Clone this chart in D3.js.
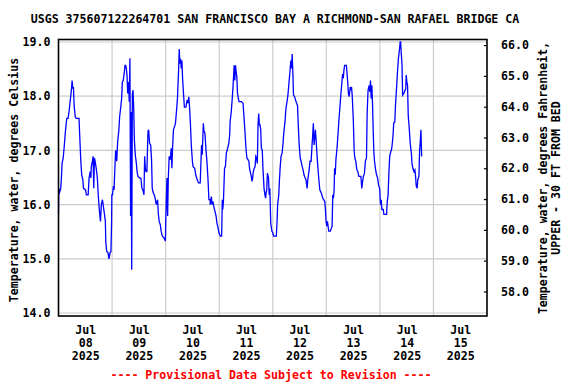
<!DOCTYPE html>
<html>
<head>
<meta charset="utf-8">
<script src="https://cdn.jsdelivr.net/npm/d3@7"></script>
<style>
body { margin: 0; background: #fff; }
text { font-family: "DejaVu Sans Mono", monospace; font-weight: bold; }
</style>
</head>
<body>
<script>
// USGS 375607122264701 water temperature, hours since Jul 08 2025 00:00
const hours = [
  0.0, 0.1, 0.3, 1.0, 1.3, 1.6, 2.1, 2.5, 3.1, 3.7, 4.3, 4.8, 5.2, 5.7, 6.1, 6.4, 6.7, 7.0, 7.5, 7.9,
  9.2, 9.5, 10.0, 10.4, 10.9, 11.2, 12.1, 12.5, 13.3, 13.7, 14.2, 14.5, 14.7, 15.2, 15.5, 15.8, 16.1, 16.4, 16.9, 17.4,
  17.9, 18.3, 18.8, 19.2, 19.7, 20.1, 20.6, 21.0, 21.2, 21.6, 22.2, 22.6, 23.1, 23.5, 23.8, 23.9, 24.2, 24.6, 24.9, 25.2,
  25.6, 26.1, 26.5, 27.0, 27.4, 27.9, 28.3, 28.6, 29.0, 29.5, 29.8, 30.1, 30.4, 30.7, 31.0, 31.4, 31.7, 32.0, 32.3, 32.5,
  32.8, 33.1, 33.4, 33.7, 34.0, 34.4, 34.9, 35.2, 35.6, 36.4, 36.9, 37.4, 37.8, 38.3, 38.6, 38.9, 39.2, 39.6, 40.1, 40.4,
  40.8, 41.3, 41.7, 42.0, 42.5, 42.9, 43.3, 43.8, 44.4, 44.7, 45.1, 45.6, 46.0, 46.5, 47.2, 47.9, 48.1, 48.6, 48.9, 49.2,
  49.6, 50.1, 50.5, 50.8, 51.1, 51.5, 52.0, 52.4, 52.9, 53.3, 53.8, 54.1, 54.4, 54.7, 55.0, 55.3, 55.6, 56.1, 56.4, 57.1,
  57.6, 57.9, 58.4, 58.8, 59.1, 59.5, 60.0, 60.3, 61.0, 61.5, 61.9, 62.4, 62.8, 63.5, 63.8, 64.1, 64.4, 64.9, 65.2, 65.6,
  66.1, 66.5, 67.0, 67.4, 67.9, 68.0, 68.5, 68.8, 69.2, 69.7, 70.1, 70.6, 71.0, 71.5, 71.9, 72.5, 73.1, 73.4, 73.6, 73.9,
  74.4, 74.8, 75.2, 75.8, 76.3, 76.7, 76.9, 77.4, 77.8, 78.2, 78.7, 79.0, 79.3, 79.6, 79.9, 80.2, 80.6, 80.9, 81.9, 82.7,
  83.1, 83.5, 84.0, 84.4, 84.9, 85.3, 85.6, 85.9, 86.4, 86.7, 87.0, 87.3, 87.7, 88.1, 88.4, 88.8, 89.1, 89.4, 89.7, 90.0,
  90.3, 90.6, 90.9, 91.3, 91.6, 92.1, 92.5, 92.8, 93.0, 93.3, 93.6, 94.1, 94.4, 94.7, 95.1, 95.6, 96.0, 96.4, 97.6, 97.9,
  98.2, 98.7, 99.0, 99.4, 99.7, 100.2, 100.6, 101.0, 101.5, 101.9, 102.4, 102.8, 103.3, 103.7, 104.1, 104.4, 104.7, 105.0, 105.3, 105.8,
  106.2, 106.7, 107.1, 107.4, 107.8, 108.3, 108.7, 109.2, 109.6, 110.0, 110.5, 110.9, 111.4, 111.7, 112.0, 112.3, 112.7, 113.2, 113.6, 113.9,
  114.2, 114.5, 114.8, 115.1, 115.4, 115.7, 116.2, 116.6, 117.1, 117.5, 118.0, 118.4, 118.8, 119.3, 119.6, 119.9, 120.2, 120.5, 120.8, 121.1,
  121.8, 122.3, 122.6, 122.9, 123.2, 123.5, 123.7, 124.0, 124.3, 124.8, 125.2, 125.6, 126.1, 126.5, 127.0, 127.3, 127.6, 127.9, 128.2, 129.0,
  129.3, 129.6, 129.9, 130.2, 130.5, 130.7, 131.0, 131.3, 131.6, 132.1, 132.5, 132.8, 133.2, 133.7, 134.1, 134.6, 135.5, 135.9, 136.2, 136.6,
  137.1, 137.5, 138.0, 138.3, 138.7, 139.2, 139.5, 139.8, 140.1, 140.4, 140.7, 141.0, 141.3, 141.6, 142.1, 142.5, 143.0, 143.5, 143.9, 144.3,
  144.6, 144.9, 145.5, 145.8, 147.0, 147.3, 147.7, 148.0, 148.4, 148.9, 149.2, 149.5, 149.9, 150.2, 150.7, 151.0, 151.5, 151.9, 152.3, 152.8,
  153.1, 153.3, 153.6, 153.9, 154.2, 154.7, 155.0, 155.3, 155.6, 155.8, 156.1, 156.4, 156.7, 157.2, 157.6, 158.1, 158.4, 158.8, 159.3, 159.7,
  160.0, 160.3, 160.7, 161.0, 161.5, 161.8, 162.1, 162.4, 162.7
];
const tempC = [
  15.82, 16.3, 16.2, 16.3, 16.49, 16.76, 16.86, 17.04, 17.35, 17.59, 17.59, 17.74, 17.9, 18.08, 18.29, 18.14, 18.17, 17.83, 17.62, 17.59,
  17.59, 17.28, 16.8, 16.55, 16.46, 16.3, 16.27, 16.18, 16.18, 16.49, 16.61, 16.49, 16.7, 16.8, 16.89, 16.3, 16.86, 16.8, 16.67, 16.49,
  16.12, 15.9, 15.69, 16.0, 16.09, 15.97, 15.82, 15.69, 15.3, 15.14, 15.11, 15.0, 15.11, 15.14, 15.69, 16.18, 16.18, 16.34, 16.27, 16.61,
  17.0, 16.8, 17.16, 17.35, 17.62, 17.8, 17.96, 18.26, 18.29, 18.45, 18.57, 18.57, 18.51, 18.39, 18.05, 18.26, 17.9, 18.7, 15.79, 17.71,
  14.8, 18.05, 18.11, 17.77, 17.19, 16.92, 16.76, 16.61, 16.52, 16.49, 16.49, 16.3, 16.27, 16.18, 16.89, 16.67, 16.61, 16.61, 17.35, 17.38,
  17.13, 17.1, 16.83, 16.3, 16.21, 16.18, 16.12, 16.0, 16.09, 15.85, 15.69, 15.63, 15.51, 15.42, 15.39, 15.33, 15.76, 16.49, 15.79, 16.49,
  16.89, 16.83, 17.04, 16.67, 17.04, 17.38, 17.44, 17.5, 17.74, 17.96, 18.45, 18.87, 18.6, 18.69, 18.51, 18.66, 18.33, 17.99, 17.8, 17.8,
  17.93, 17.87, 17.99, 17.74, 17.5, 17.1, 16.8, 16.7, 16.67, 16.55, 16.49, 16.43, 16.4, 16.4, 16.76, 17.1, 16.92, 17.5, 17.35, 17.32,
  17.0, 16.8, 16.46, 16.09, 16.09, 16.0, 16.15, 16.0, 16.06, 15.94, 15.88, 15.79, 15.66, 15.57, 15.48, 15.42, 15.42, 16.09, 15.91, 16.06,
  16.67, 16.7, 16.95, 17.04, 17.13, 17.28, 17.53, 17.71, 17.93, 18.17, 18.57, 18.29, 18.57, 18.45, 18.36, 18.05, 17.96, 17.9, 17.9, 17.87,
  17.62, 17.38, 17.04, 16.86, 16.83, 16.8, 16.67, 16.61, 16.52, 16.43, 16.49, 16.61, 16.67, 16.7, 16.89, 16.86, 16.76, 17.47, 17.68, 17.47,
  17.47, 17.38, 17.04, 17.01, 16.67, 16.3, 16.18, 16.12, 16.21, 16.27, 16.58, 16.49, 16.18, 16.3, 15.66, 15.51, 15.48, 15.42, 15.42, 15.66,
  16.0, 16.18, 16.46, 16.73, 16.89, 16.95, 17.13, 17.35, 17.53, 17.77, 17.9, 18.02, 18.26, 18.45, 18.66, 18.51, 18.78, 18.45, 18.02, 17.99,
  17.93, 17.87, 17.83, 17.5, 17.13, 16.86, 16.8, 16.7, 16.64, 16.55, 16.49, 16.46, 16.3, 16.46, 16.55, 16.64, 16.8, 16.8, 17.1, 17.28,
  17.5, 17.1, 17.22, 17.38, 17.22, 17.0, 16.7, 16.49, 16.27, 16.24, 16.18, 16.12, 16.09, 16.06, 15.91, 15.69, 15.6, 15.69, 15.6, 15.51,
  15.51, 15.57, 15.6, 16.18, 16.12, 16.27, 16.67, 16.55, 16.83, 17.04, 17.28, 17.53, 17.8, 18.02, 18.26, 18.41, 18.33, 18.48, 18.57, 18.57,
  18.41, 18.26, 18.05, 17.99, 18.08, 18.17, 18.11, 18.17, 18.02, 17.56, 16.97, 16.86, 16.8, 16.64, 16.61, 16.52, 16.52, 16.3, 16.4, 16.52,
  16.58, 16.8, 16.86, 17.68, 18.11, 18.2, 18.08, 18.29, 17.96, 18.2, 17.87, 17.38, 16.97, 16.8, 16.64, 16.55, 16.49, 16.34, 16.3, 16.0,
  16.09, 15.91, 15.91, 15.82, 15.82, 16.06, 16.18, 16.55, 16.89, 16.98, 17.01, 17.1, 17.28, 17.5, 17.53, 17.83, 18.17, 18.45, 18.69, 18.87,
  19.0, 19.0, 18.78, 18.6, 18.02, 18.05, 18.08, 18.11, 18.14, 18.39, 18.26, 18.2, 17.65, 17.38, 17.13, 16.95, 16.76, 16.67, 16.61, 16.64,
  16.52, 16.34, 16.3, 16.46, 16.52, 17.0, 17.16, 17.38, 16.89
];

const celsiusTicks = [14, 15, 16, 17, 18, 19];
const fahrenheitTicks = [58, 59, 60, 61, 62, 63, 64, 65, 66];
const dayLabels = ["08", "09", "10", "11", "12", "13", "14", "15"];

const w = 576;
const h = 384;
const plotLeft = 58.5;
const plotRight = 487;
const plotTop = 39.5;
const plotBottom = 316;
const fontSize = "11.6px";

const start = Date.UTC(2025, 6, 8);
const data = hours.map(function(d, i) {
  return {t: new Date(start + d * 3600000), v: tempC[i]};
});

const svg = d3.select("body").append("svg")
  .attr("width", w)
  .attr("height", h);

const xScale = d3.scaleUtc()
  .domain([new Date(start), new Date(Date.UTC(2025, 6, 16))])
  .range([plotLeft, plotRight]);
const yScale = d3.scaleLinear().domain([14, 19]).range([313, 42]);
const yScaleF = d3.scaleLinear().domain([57.3, 66.1]).range([313, 42]);

// gridlines
svg.append("g").selectAll("line")
  .data(celsiusTicks)
  .enter().append("line")
  .attr("x1", plotLeft).attr("x2", plotRight)
  .attr("y1", d => yScale(d)).attr("y2", d => yScale(d))
  .attr("stroke", "#cccccc").attr("stroke-width", 1.2);

const dayBounds = d3.utcDay.range(new Date(Date.UTC(2025, 6, 9)), new Date(Date.UTC(2025, 6, 16)));
svg.append("g").selectAll("line")
  .data(dayBounds)
  .enter().append("line")
  .attr("x1", d => xScale(d)).attr("x2", d => xScale(d))
  .attr("y1", plotTop).attr("y2", plotBottom)
  .attr("stroke", "#cccccc").attr("stroke-width", 1.2);

// data line
const line = d3.line()
  .x(d => xScale(d.t))
  .y(d => yScale(d.v));

svg.append("path")
  .datum(data)
  .attr("d", line)
  .attr("fill", "none")
  .attr("stroke", "#0000ff")
  .attr("stroke-width", 1.3);

// frame
svg.append("rect")
  .attr("x", plotLeft).attr("y", plotTop)
  .attr("width", plotRight - plotLeft).attr("height", plotBottom - plotTop)
  .attr("fill", "none").attr("stroke", "#000").attr("stroke-width", 1.6);

// left axis
const yAxis = svg.append("g")
  .attr("transform", "translate(" + plotLeft + ",0)")
  .call(d3.axisLeft(yScale).tickValues(celsiusTicks).tickFormat(d3.format(".1f")).tickSize(0).tickPadding(8));
yAxis.select(".domain").remove();

// right axis
const yAxisF = svg.append("g")
  .attr("transform", "translate(" + plotRight + ",0)")
  .call(d3.axisRight(yScaleF).tickValues(fahrenheitTicks).tickFormat(d3.format(".1f")).tickSize(-3).tickPadding(14));
yAxisF.select(".domain").remove();
yAxisF.selectAll("line").attr("stroke-width", 1.2);

// bottom labels at noon of each day
const noons = dayLabels.map((d, i) => new Date(start + (i * 24 + 12) * 3600000));
const xAxis = svg.append("g")
  .attr("transform", "translate(0," + plotBottom + ")")
  .call(d3.axisBottom(xScale).tickValues(noons).tickSize(0).tickPadding(10));
xAxis.select(".domain").remove();
xAxis.selectAll("text").each(function(d, i) {
  const t = d3.select(this).text(null);
  t.append("tspan").attr("x", 0).attr("dy", "0.71em").text("Jul");
  t.append("tspan").attr("x", 0).attr("dy", "1.1em").text(dayLabels[i]);
  t.append("tspan").attr("x", 0).attr("dy", "1.1em").text("2025");
});

svg.selectAll(".tick text").attr("font-size", fontSize).attr("fill", "#000")
  .style("font-family", "'DejaVu Sans Mono', monospace").style("font-weight", "bold");

// title
svg.append("text")
  .attr("x", 275).attr("y", 23)
  .attr("text-anchor", "middle")
  .attr("font-size", fontSize)
  .text("USGS 375607122264701 SAN FRANCISCO BAY A RICHMOND-SAN RAFAEL BRIDGE CA");

// axis titles
svg.append("text")
  .attr("transform", "translate(18,180) rotate(-90)")
  .attr("text-anchor", "middle")
  .attr("font-size", fontSize)
  .text("Temperature, water, degrees Celsius");

svg.append("text")
  .attr("transform", "translate(547,178) rotate(-90)")
  .attr("text-anchor", "middle")
  .attr("font-size", fontSize)
  .text("Temperature, water, degrees Fahrenheit,");

svg.append("text")
  .attr("transform", "translate(560,178) rotate(-90)")
  .attr("text-anchor", "middle")
  .attr("font-size", fontSize)
  .text("UPPER - 30 FT FROM BED");

// footer
svg.append("text")
  .attr("x", 271).attr("y", 379)
  .attr("text-anchor", "middle")
  .attr("font-size", fontSize)
  .attr("fill", "#ff0000")
  .text("---- Provisional Data Subject to Revision ----");
</script>
</body>
</html>
